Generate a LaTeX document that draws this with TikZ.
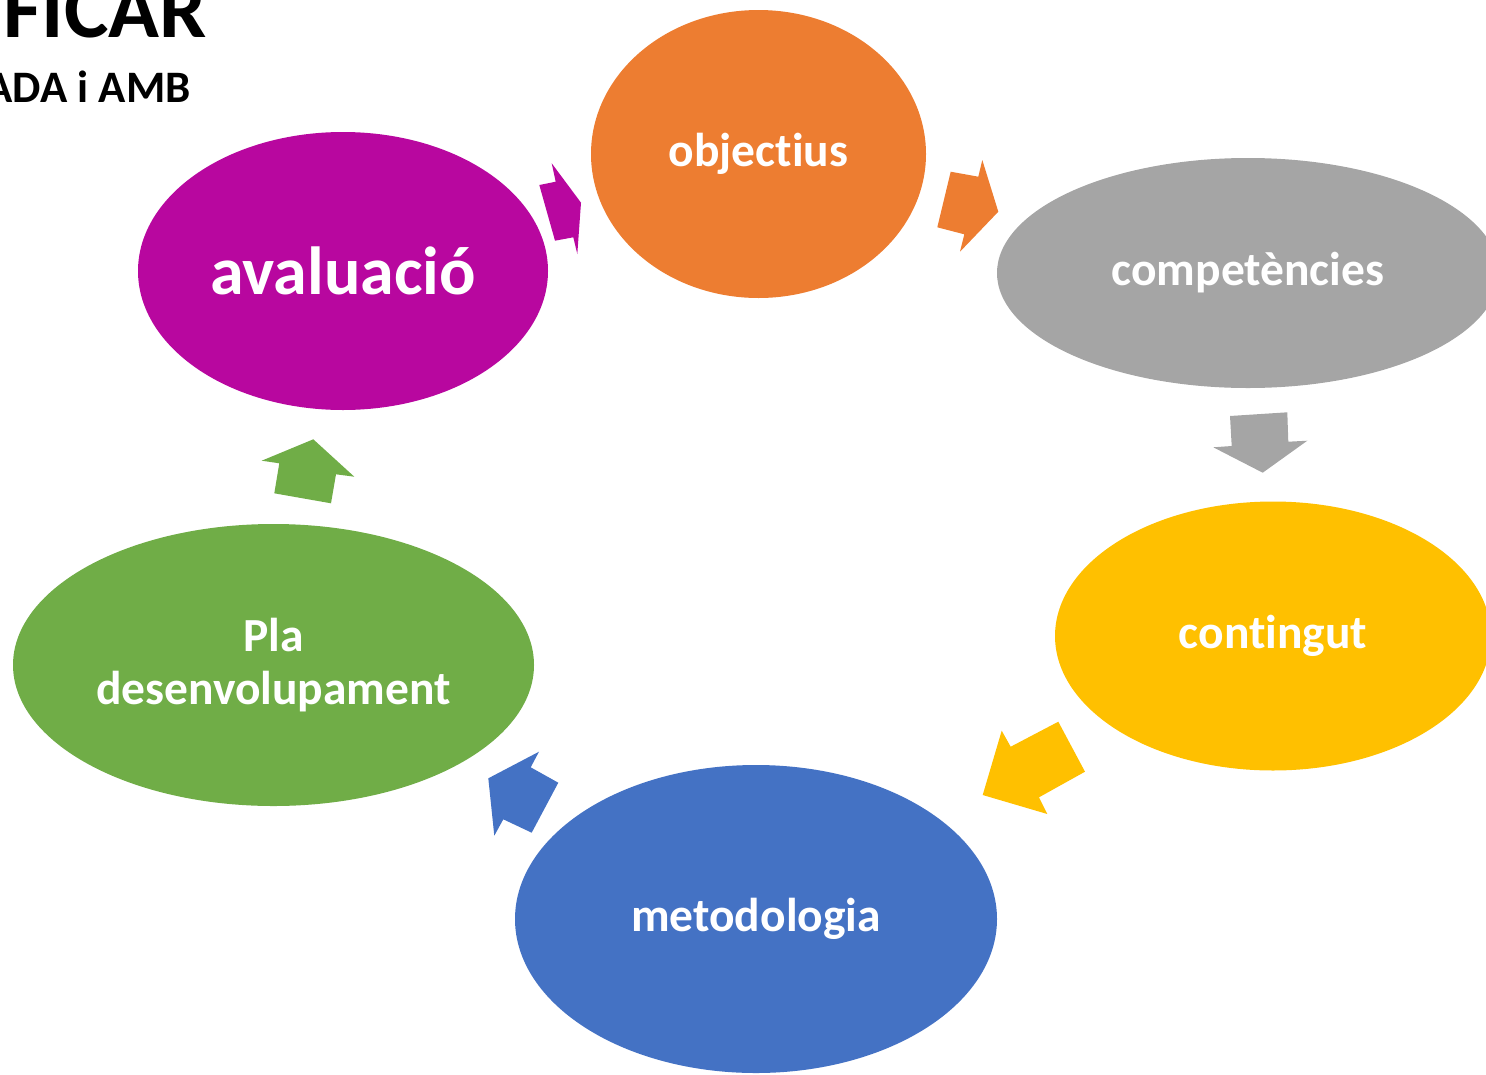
\documentclass[tikz,border=0pt]{standalone}
\usepackage{fontspec}
\setmainfont{Carlito}[Ligatures={NoCommon}]
\usetikzlibrary{shapes.geometric}
\definecolor{avalpurple}{HTML}{B8079F}
\definecolor{objorange}{HTML}{ED7D31}
\definecolor{compgrey}{HTML}{A5A5A5}
\definecolor{contyellow}{HTML}{FFC000}
\definecolor{metoblue}{HTML}{4472C4}
\definecolor{plagreen}{HTML}{70AD47}
\begin{document}
\begin{tikzpicture}[x=1pt,y=-1pt,cycle_node/.style={ellipse,draw=none,inner sep=0pt,text=white,align=center,font=\fontsize{47.5}{53}\selectfont\bfseries},title_text/.style={inner sep=0pt,anchor=base east,text=black}]
		
		\clip (0,0) rectangle (1486,1074);
		
		\node[title_text,font=\fontsize{84}{90}\selectfont\bfseries] (title1) at (207,37) {FICAR};
		\node[title_text,font=\fontsize{45}{50}\selectfont\bfseries] (title2) at (191,102) {ADA i AMB};
		
		\node[cycle_node,fill=avalpurple,minimum width=410pt,minimum height=278pt,font=\fontsize{68}{72}\selectfont\bfseries] (aval) at (343,271) {avaluació};
		\node[cycle_node,fill=objorange,minimum width=335pt,minimum height=288pt] (obj) at (758.5,154) {objectius};
		\node[cycle_node,fill=compgrey,minimum width=502pt,minimum height=230pt] (comp) at (1248,273) {competències};
		\node[cycle_node,fill=contyellow,minimum width=436pt,minimum height=269pt] (cont) at (1273,636) {contingut};
		\node[cycle_node,fill=metoblue,minimum width=482pt,minimum height=308pt] (meto) at (756,919) {metodologia};
		\node[cycle_node,fill=plagreen,minimum width=521pt,minimum height=282pt] (pla) at (273.5,665) {Pla\\desenvolupament};
		
		
		\fill[avalpurple] (539.3,185) -- (555.7,181.7) -- (551.7,163.3) -- (581,202.7) -- (577.3,254) -- (573.3,237.3) -- (555,240.7) -- cycle;
		\fill[objorange] (950.7,171.7) -- (978.3,176.7) -- (982.3,160) -- (998.3,211.7) -- (960,251.7) -- (964.3,234.3) -- (937.3,227.3) -- cycle;
		\fill[compgrey] (1230,416) -- (1287.3,412.3) -- (1288.3,441.7) -- (1307.3,440.7) -- (1262.7,472.7) -- (1213.3,447.3) -- (1231.7,446) -- cycle;
		\fill[contyellow] (1058.3,721.7) -- (1085,771.7) -- (1039,797.3) -- (1047.3,814) -- (982.7,795) -- (1001.7,730.7) -- (1010.7,746.7) -- cycle;
		\fill[metoblue] (539,751.7) -- (530.7,767.3) -- (558.3,782.7) -- (531.7,832.7) -- (503.3,819.3) -- (494.3,835.7) -- (488.3,778.3) -- cycle;
		\fill[plagreen] (313.3,439.3) -- (354.3,476.7) -- (336,474.3) -- (331,503.3) -- (274.3,493.3) -- (279.3,463.3) -- (261.7,460.7) -- cycle;
		\end{tikzpicture}
\end{document}
